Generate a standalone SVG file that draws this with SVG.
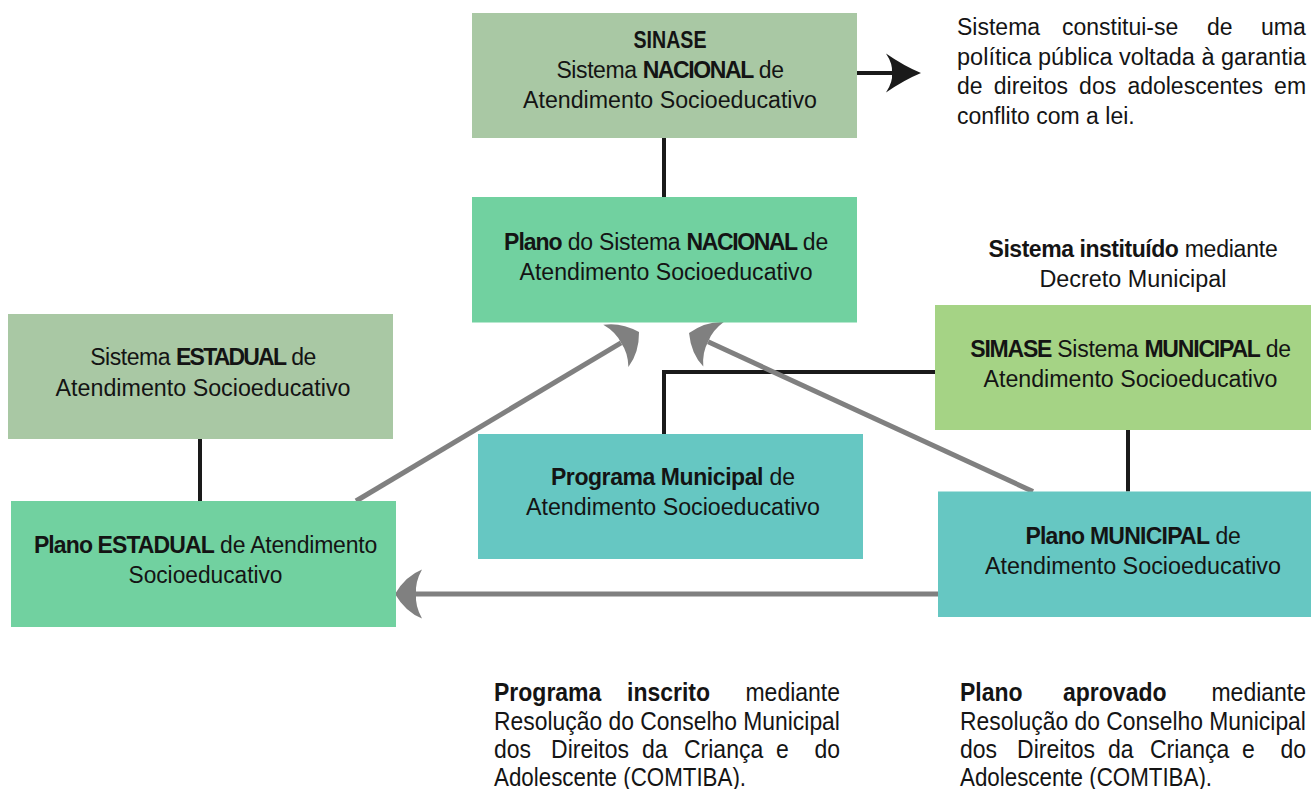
<svg xmlns="http://www.w3.org/2000/svg" width="1311" height="789" viewBox="0 0 1311 789">
<defs>
<style>
.t{font-family:"Liberation Sans",Arial,sans-serif;font-size:23px;fill:#141414}
.c{text-anchor:middle}
.b{font-weight:700}
.p{font-family:"Liberation Sans",Arial,sans-serif;font-size:23px;fill:#141414}
.q{font-family:"Liberation Sans",Arial,sans-serif;font-size:25px;fill:#141414}
.sage{fill:#a9c8a4}
.mint{fill:#71d1a0}
.teal{fill:#66c7c2}
.lime{fill:#a5d385}
.blk{fill:none;stroke:#1a1a1a;stroke-width:4}
.gry{fill:none;stroke:#808080;stroke-width:5}
</style>
<marker id="ga" markerUnits="userSpaceOnUse" viewBox="-8 -27 32 54" markerWidth="32" markerHeight="54" refX="0" refY="0" orient="auto">
<path d="M21,0 Q10.5,-18 -6,-24.5 Q1,-12 0,0 Q1,12 -6,24.5 Q10.5,18 21,0 Z" fill="#808080"/>
</marker>
<marker id="ba" markerUnits="userSpaceOnUse" viewBox="-8 -21 40 42" markerWidth="40" markerHeight="42" refX="0" refY="0" orient="auto">
<path d="M29,0 Q12,-7 -6,-19.5 Q1,-9 0,0 Q1,9 -6,19.5 Q12,7 29,0 Z" fill="#1a1a1a"/>
</marker>
</defs>
<rect width="1311" height="789" fill="#ffffff"/>

<g id="connectors">
<path class="blk" d="M664,138 V197"/>
<path class="blk" d="M200,439 V501"/>
<path class="blk" d="M664,434 V372 H935"/>
<path class="blk" d="M1128,430 V491.5"/>
<path class="blk" d="M857,73 H892" marker-end="url(#ba)"/>
<path class="gry" d="M356,501 L621,342.8" marker-end="url(#ga)"/>
<path class="gry" d="M1033,491.5 L708.1,341.8" marker-end="url(#ga)"/>
<path class="gry" d="M938,594 H416" marker-end="url(#ga)"/>
</g>

<g id="n-sinase">
<rect class="sage" x="472" y="13" width="385" height="125"/>
<text class="t c b" x="670" y="48" textLength="73" lengthAdjust="spacingAndGlyphs">SINASE</text>
<text class="t c" x="670" y="78" letter-spacing="-0.4">Sistema <tspan class="b" letter-spacing="-1.4">NACIONAL</tspan> de</text>
<text class="t c" x="670" y="107.5" textLength="294" lengthAdjust="spacingAndGlyphs">Atendimento Socioeducativo</text>
</g>

<g id="n-plano-nacional">
<rect class="mint" x="472" y="197" width="385" height="125.5"/>
<text class="t c" x="666" y="250" letter-spacing="-0.25"><tspan class="b" letter-spacing="-1">Plano</tspan> do Sistema <tspan class="b" letter-spacing="-1.4">NACIONAL</tspan> de</text>
<text class="t c" x="666" y="280" textLength="293" lengthAdjust="spacingAndGlyphs">Atendimento Socioeducativo</text>
</g>

<g id="n-sistema-estadual">
<rect class="sage" x="8" y="314" width="385" height="125"/>
<text class="t c" x="203" y="365" letter-spacing="-0.45">Sistema <tspan class="b" letter-spacing="-1.8">ESTADUAL</tspan> de</text>
<text class="t c" x="203" y="395.5" textLength="295" lengthAdjust="spacingAndGlyphs">Atendimento Socioeducativo</text>
</g>

<g id="n-plano-estadual">
<rect class="mint" x="11" y="501" width="385" height="126"/>
<text class="t c" x="205.5" y="552.5" letter-spacing="-0.2"><tspan class="b" letter-spacing="-0.9">Plano ESTADUAL</tspan> de Atendimento</text>
<text class="t c" x="205.5" y="583" textLength="154" lengthAdjust="spacingAndGlyphs">Socioeducativo</text>
</g>

<g id="n-programa-municipal">
<rect class="teal" x="478" y="434" width="385" height="125"/>
<text class="t c" x="673" y="485"><tspan class="b" letter-spacing="-0.43">Programa Municipal</tspan> de</text>
<text class="t c" x="673" y="515" textLength="294" lengthAdjust="spacingAndGlyphs">Atendimento Socioeducativo</text>
</g>

<g id="n-simase">
<rect class="lime" x="935" y="305" width="380" height="125"/>
<text class="t c" x="1130.5" y="357" letter-spacing="-0.3"><tspan class="b" letter-spacing="-1.2">SIMASE</tspan> Sistema <tspan class="b" letter-spacing="-1.2">MUNICIPAL</tspan> de</text>
<text class="t c" x="1130.5" y="387" textLength="294" lengthAdjust="spacingAndGlyphs">Atendimento Socioeducativo</text>
</g>

<g id="n-plano-municipal">
<rect class="teal" x="938" y="491.5" width="380" height="125.5"/>
<text class="t c" x="1133" y="544" letter-spacing="-0.2"><tspan class="b" letter-spacing="-0.75">Plano MUNICIPAL</tspan> de</text>
<text class="t c" x="1133" y="574" textLength="296" lengthAdjust="spacingAndGlyphs">Atendimento Socioeducativo</text>
</g>

<g id="note-sinase">
<text class="p" y="35"><tspan x="957">Sistema</tspan><tspan x="1062">constitui-se</tspan><tspan x="1207">de</tspan><tspan x="1261">uma</tspan></text>
<text class="p" x="957" y="64.5" textLength="349" lengthAdjust="spacingAndGlyphs">política pública voltada à garantia</text>
<text class="p" x="957" y="94" word-spacing="4.8">de direitos dos adolescentes em</text>
<text class="p" x="957" y="123.5">conflito com a lei.</text>
</g>

<g id="note-simase">
<text class="t c" x="1133" y="257" letter-spacing="-0.22"><tspan class="b" letter-spacing="-0.45">Sistema instituído</tspan> mediante</text>
<text class="t c" x="1133" y="287" textLength="187" lengthAdjust="spacingAndGlyphs">Decreto Municipal</text>
</g>

<g id="note-programa" transform="translate(494 0) scale(0.92 1)">
<text class="q" y="701"><tspan x="0" class="b">Programa</tspan><tspan x="144.6" class="b">inscrito</tspan><tspan x="273.3">mediante</tspan></text>
<text class="q" x="0" y="730" textLength="376" lengthAdjust="spacingAndGlyphs">Resolução do Conselho Municipal</text>
<text class="q" y="758"><tspan x="0">dos</tspan><tspan x="62">Direitos</tspan><tspan x="160.9">da</tspan><tspan x="206.5">Criança</tspan><tspan x="306.5">e</tspan><tspan x="348.3">do</tspan></text>
<text class="q" x="0" y="786" textLength="274" lengthAdjust="spacingAndGlyphs">Adolescente (COMTIBA).</text>
</g>

<g id="note-plano" transform="translate(960 0) scale(0.92 1)">
<text class="q" y="701"><tspan x="0" class="b">Plano</tspan><tspan x="112" class="b">aprovado</tspan><tspan x="273.3">mediante</tspan></text>
<text class="q" x="0" y="730" textLength="376" lengthAdjust="spacingAndGlyphs">Resolução do Conselho Municipal</text>
<text class="q" y="758"><tspan x="0">dos</tspan><tspan x="62">Direitos</tspan><tspan x="160.9">da</tspan><tspan x="206.5">Criança</tspan><tspan x="306.5">e</tspan><tspan x="348.3">do</tspan></text>
<text class="q" x="0" y="786" textLength="274" lengthAdjust="spacingAndGlyphs">Adolescente (COMTIBA).</text>
</g>
</svg>
